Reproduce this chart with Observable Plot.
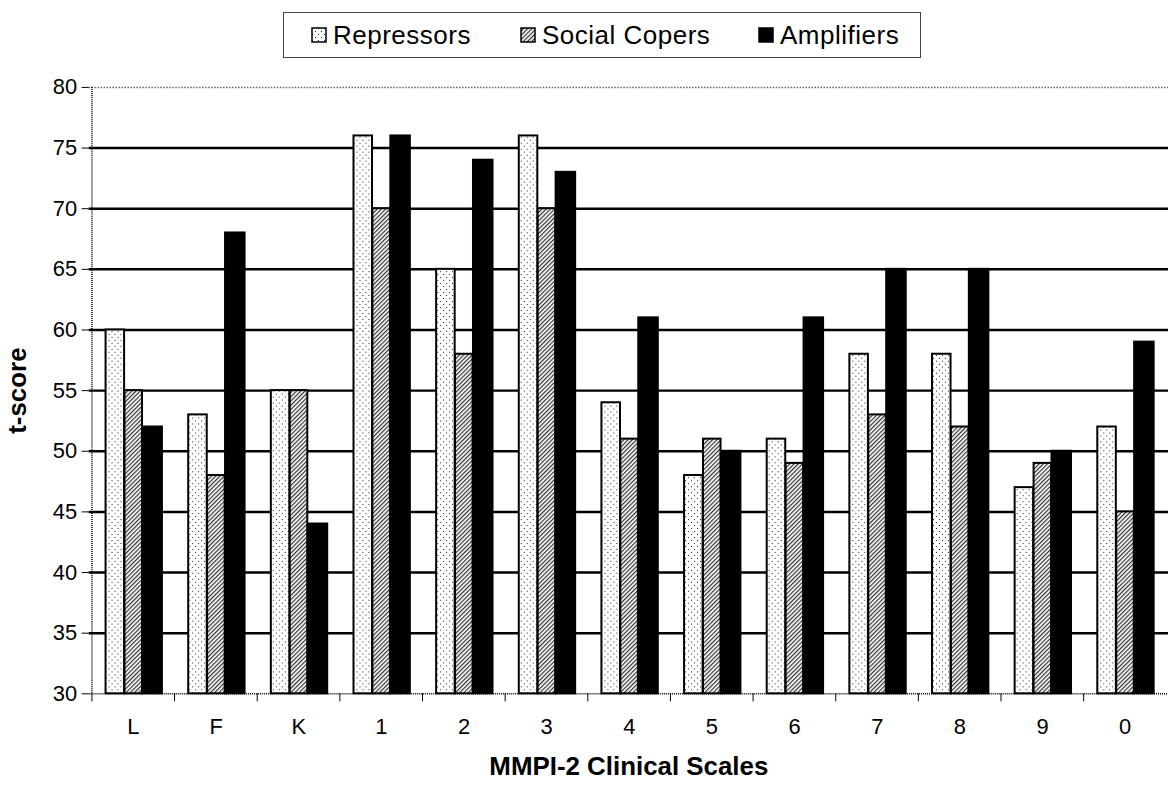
<!DOCTYPE html>
<html>
<head>
<meta charset="utf-8">
<script src="https://cdn.jsdelivr.net/npm/d3@7"></script>
<script src="https://cdn.jsdelivr.net/npm/@observablehq/plot@0.6"></script>
<style>
  html, body { margin: 0; background: #fff; overflow: hidden; font-family: "Liberation Sans", Arial, sans-serif; }
  #legend-row { position: relative; width: 1168px; height: 70px; }
  #legend { position: absolute; left: 283px; top: 12px; width: 638px; height: 46px;
            border: 1px solid #444; box-sizing: border-box; }
  .item { position: absolute; top: 0; height: 100%; display: flex; align-items: center;
          font-size: 26px; letter-spacing: 0.5px; color: #000; white-space: nowrap; }
  .item svg { margin-right: 6px; }
  #chart { width: 1168px; overflow: hidden; }
  #chart svg { display: block; }
</style>
</head>
<body>
<!-- fill patterns shared by the bars and the legend swatches -->
<svg width="0" height="0" style="position:absolute">
  <defs>
    <pattern id="dots" patternUnits="userSpaceOnUse" width="6" height="6">
      <rect width="6" height="6" fill="#fff"></rect>
      <rect x="1" y="1" width="1" height="1" fill="#222"></rect>
      <rect x="4" y="4" width="1" height="1" fill="#222"></rect>
    </pattern>
    <pattern id="hatch" patternUnits="userSpaceOnUse" width="3" height="3" patternTransform="rotate(45)">
      <rect width="3" height="3" fill="#fff"></rect>
      <line x1="0.6" y1="0" x2="0.6" y2="3" stroke="#333" stroke-width="1.3"></line>
    </pattern>
  </defs>
</svg>

<div id="legend-row"><div id="legend"></div></div>
<div id="chart"></div>

<script>
// MMPI-2 clinical scale means (t-scores) for the three coping groups
const scaleNames = ["L", "F", "K", "1", "2", "3", "4", "5", "6", "7", "8", "9", "0"];
const repressors   = [60, 53, 55, 76, 65, 76, 54, 48, 51, 58, 58, 47, 52];
const socialCopers = [55, 48, 55, 70, 58, 70, 51, 51, 49, 53, 52, 49, 45];
const amplifiers   = [52, 68, 44, 76, 74, 73, 61, 50, 61, 65, 65, 50, 59];
const seriesNames  = ["Repressors", "Social Copers", "Amplifiers"];
const yTicks = [30, 35, 40, 45, 50, 55, 60, 65, 70, 75, 80];

const seriesValues = [repressors, socialCopers, amplifiers];
const fills = ["url(#dots)", "url(#hatch)", "#000"];

// long-format table for the bar marks
const rows = scaleNames.flatMap((s, i) =>
  seriesNames.map((g, k) => ({scale: s, group: g, value: seriesValues[k][i]}))
);

// layout: the plot area runs slightly past the right edge of the page
const W = 1173, H = 715;
const mL = 89, mR = 0, mT = 17, mB = 89;
const band = (W - mL - mR) / scaleNames.length;
// horizontal slot of each series inside a category band (px from band start)
const slots = [[14, 33], [33, 51], [51, 71]];

const yMin = yTicks[0], yMax = yTicks[yTicks.length - 1];
const gridValues = yTicks.filter(v => v > yMin && v < yMax);

const chart = Plot.plot({
  width: W,
  height: H,
  marginLeft: mL,
  marginRight: mR,
  marginTop: mT,
  marginBottom: mB,
  style: {fontFamily: "'Liberation Sans', Arial, sans-serif", fontSize: "22px", color: "#000", background: "#fff"},
  x: {domain: scaleNames, padding: 0, axis: null},
  y: {domain: [yMin, yMax], axis: null},
  marks: [
    // horizontal gridlines
    Plot.ruleY(gridValues, {stroke: "#000", strokeWidth: 2.5}),
    // dotted top border of the plot area
    Plot.ruleY([yMax], {stroke: "#666", strokeWidth: 1.5, strokeDasharray: "1.5,1.5"}),
    // grouped bars
    ...seriesNames.map((g, k) =>
      Plot.barY(rows.filter(r => r.group === g), {
        x: "scale",
        y1: yMin,
        y2: "value",
        fill: fills[k],
        stroke: "#000",
        strokeWidth: 2,
        insetLeft: slots[k][0],
        insetRight: band - slots[k][1]
      })
    ),
    // dotted axis lines
    Plot.ruleY([yMin], {stroke: "#000", strokeWidth: 1.5, strokeDasharray: "1,1"}),
    Plot.ruleX([scaleNames[0]], {dx: -band / 2, y1: yMin, y2: yMax, stroke: "#000", strokeWidth: 1.5, strokeDasharray: "1,1"}),
    // category boundary ticks below the x axis
    Plot.ruleX(scaleNames, {dx: -band / 2, y1: yMin, y2: yMin, insetBottom: -8, stroke: "#000", strokeWidth: 1}),
    Plot.axisY({ticks: yTicks, tickSize: 7, tickPadding: 5, fontSize: 22, label: null}),
    Plot.axisX({tickSize: 0, tickPadding: 25, fontSize: 22, label: null}),
    // axis titles
    Plot.text(["t-score"], {frameAnchor: "left", textAnchor: "middle", dx: -72, rotate: -90, fontWeight: "bold", fontSize: 26}),
    Plot.text(["MMPI-2 Clinical Scales"], {frameAnchor: "bottom", textAnchor: "middle", dy: 82, fontWeight: "bold", fontSize: 26})
  ]
});
document.getElementById("chart").appendChild(chart);

// legend
const legend = d3.select("#legend");
const itemLeft = [27, 236, 474];
seriesNames.forEach((name, k) => {
  const item = legend.append("div").attr("class", "item").style("left", itemLeft[k] + "px");
  const sw = item.append("svg").attr("width", 16).attr("height", 16);
  sw.append("rect").attr("x", 1).attr("y", 1).attr("width", 14).attr("height", 14)
    .attr("fill", fills[k]).attr("stroke", "#000").attr("stroke-width", 1.5);
  item.append("span").text(name);
});
</script>
</body>
</html>
